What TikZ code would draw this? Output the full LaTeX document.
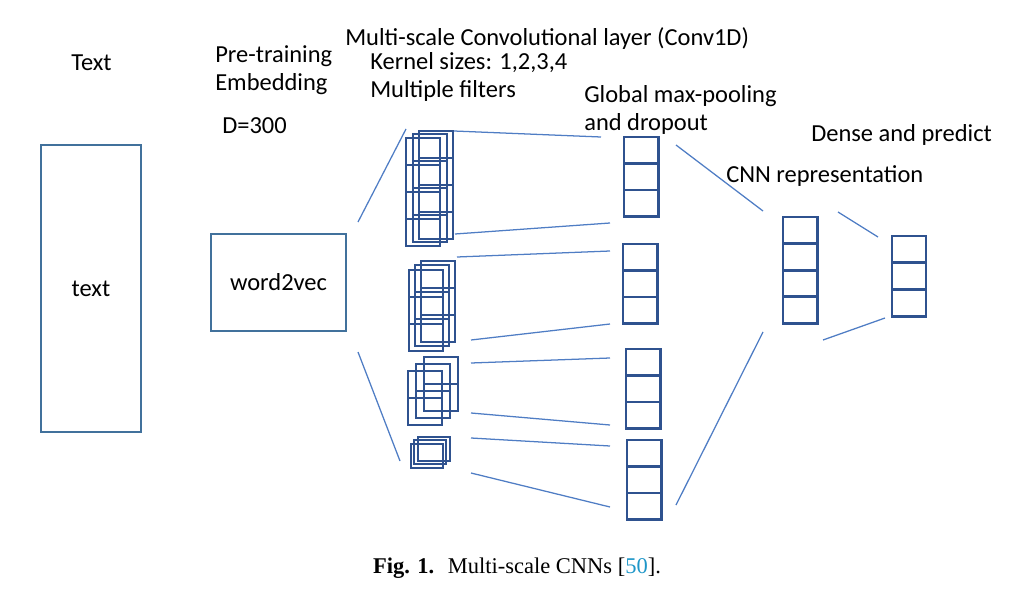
\documentclass[tikz,border=0pt]{standalone}
\usepackage{fontspec}
\setmainfont{Carlito}
\newfontfamily\capfont{Liberation Serif}
\usepackage{xcolor}
\usepackage{tikz}
\usetikzlibrary{positioning}
\definecolor{frameblue}{RGB}{65,113,156}
\definecolor{cellblue}{RGB}{47,82,143}
\definecolor{lineblue}{RGB}{79,125,196}
\definecolor{citeblue}{RGB}{30,150,200}
\tikzstyle{frame} = [draw=frameblue, line width=1.8pt, inner sep=0pt, font=\fontsize{17.4}{20}\selectfont]
\tikzstyle{cell} = [draw=cellblue, line width=1.9pt, inner sep=0pt, outer sep=0pt, minimum width=0.87cm, minimum height=0.67cm, anchor=north west]
\tikzstyle{filt} = [draw=cellblue, line width=1.9pt]
\tikzstyle{link} = [draw=lineblue, line width=0.9pt]
\tikzstyle{lbl} = [anchor=base west, align=left, inner sep=0pt, font=\fontsize{17.4}{19.9}\selectfont]

\begin{document}
\begin{tikzpicture}[x=0.025cm, y=-0.025cm]
    \useasboundingbox (0,0) rectangle (1014,598);
    % input and embedding
    \node[frame, minimum width=2.5cm, minimum height=7.175cm] (text) at (91,288.5) {text};
    \node[frame, minimum width=3.375cm, minimum height=2.425cm] (w2v) at (278.5,282.5) {word2vec};
    % labels (base = last line)
    \node[lbl] (lbltext) at (71,70) {Text};
    \node[lbl] (lblemb) at (215,90) {Pre-training\\Embedding};
    \node[lbl] (lbldim) at (222,133) {D=300};
    \node[lbl] (lblconv) at (345,45) {Multi-scale Convolutional layer (Conv1D)};
    \node[lbl] (lblkern) at (370,97) {Kernel sizes: 1,2,3,4\\Multiple filters};
    \node[lbl] (lblpool) at (584,130) {Global max-pooling\\and dropout};
    \node[lbl] (lbldense) at (811,141) {Dense and predict};
    \node[lbl] (lblrep) at (726,182) {CNN representation};
    % filters: stacks of cells, kernel sizes 4,3,2,1
    \foreach \x/\y/\n in {406/138/4, 413/134/4, 419/131/4,
                          409/270/3, 415/265/3, 421/261/3,
                          408/371/2, 416/364/2, 424/357/2}
        \foreach \k in {1,...,\n}
            \draw[filt] (\x,{\y+27*(\k-1)}) rectangle ++(34,27);
    \foreach \x/\y in {411/444, 414/440, 418/437}
        \draw[filt] (\x,\y) rectangle ++(32,24);
    % pooling outputs
    \foreach \x/\y/\n in {624/137/poolA, 623/244/poolB, 626/349/poolC, 627/440/poolD}
        \foreach \k in {0,1,2}
            \node[cell, minimum height=0.66cm] (\n\k) at (\x,{\y+26.5*\k}) {};
    % CNN representation
    \foreach \k in {0,...,3}
        \node[cell] (rep\k) at (783,{217+26.5*\k}) {};
    % dense
    \foreach \k in {0,1,2}
        \node[cell, minimum width=0.85cm] (dense\k) at (892,{236+26.7*\k}) {};
    % line ends
    \coordinate (e1) at (358,222); \coordinate (f1) at (406,129);
    \coordinate (e2) at (358,352); \coordinate (f2) at (400,461);
    \coordinate (ga) at (454,131); \coordinate (pa) at (601,137);
    \coordinate (gb) at (455,234); \coordinate (pb) at (610,223);
    \coordinate (gc) at (457,257); \coordinate (pc) at (610,251);
    \coordinate (gd) at (471,340); \coordinate (pd) at (610,324);
    \coordinate (ge) at (471,363); \coordinate (pe) at (610,358);
    \coordinate (gf) at (471,413); \coordinate (pf) at (610,425);
    \coordinate (gg) at (471,438); \coordinate (pg) at (610,446);
    \coordinate (gh) at (471,473); \coordinate (ph) at (610,507);
    \coordinate (q1) at (676,145); \coordinate (r1) at (763,211);
    \coordinate (q2) at (676,505); \coordinate (r2) at (763,332);
    \coordinate (s1) at (838,212); \coordinate (t1) at (878,237);
    \coordinate (s2) at (823,340); \coordinate (t2) at (885,318);
    \foreach \a/\b in {e1/f1, e2/f2, ga/pa, gb/pb, gc/pc, gd/pd, ge/pe, gf/pf, gg/pg, gh/ph, q1/r1, q2/r2, s1/t1, s2/t2}
        \draw[link] (\a) -- (\b);
    % caption
    \node[font=\capfont\fontsize{16}{19}\selectfont] (cap) at (517,568) {\textbf{Fig. 1.}\hspace{0.6em}Multi-scale CNNs [\textcolor{citeblue}{50}].};
\end{tikzpicture}
\end{document}
